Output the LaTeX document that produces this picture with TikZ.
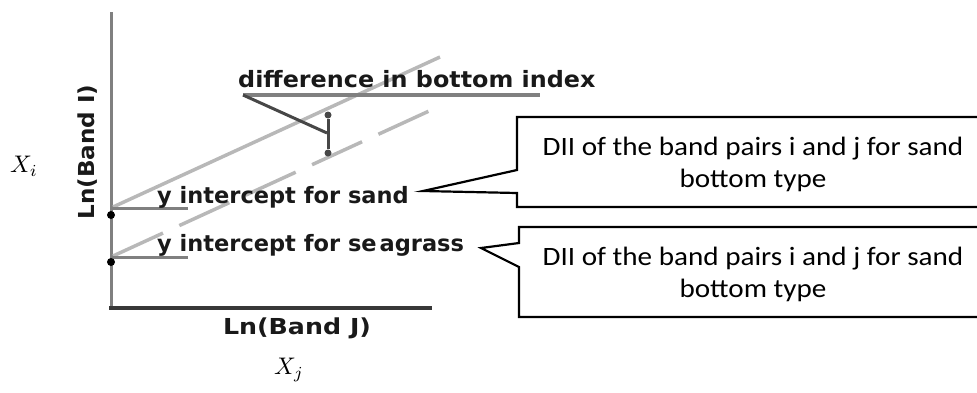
\documentclass[tikz,border=0pt]{standalone}
\usepackage{fontspec}
\usepackage{graphicx}
\newfontfamily\labfont{DejaVu Sans}
\newfontfamily\boxfont{Carlito}
\definecolor{labcol}{gray}{0.1}
\definecolor{axisgray}{gray}{0.5}
\definecolor{axisdark}{gray}{0.22}
\definecolor{linegray}{gray}{0.72}
\definecolor{leadgray}{gray}{0.28}
\begin{document}
\begin{tikzpicture}[x=1pt,y=-1pt,
  lab/.style={font=\labfont\bfseries\fontsize{22.5}{26}\selectfont, text=labcol, inner sep=0pt, anchor=base west},
  axlab/.style={font=\labfont\bfseries\fontsize{22}{26}\selectfont, text=labcol, inner sep=0pt},
  mathlab/.style={inner sep=0pt},
  boxtext/.style={font=\boxfont\fontsize{26.5}{32}\selectfont, inner sep=0pt, anchor=base},
  callout/.style={draw=black, line width=2.2pt, line join=miter},
  axisline/.style={draw=axisgray, line width=3pt},
  fitline/.style={draw=linegray, line width=3.5pt},
  dot/.style={circle, fill=black, inner sep=0pt, minimum size=8pt}
]
\useasboundingbox (0,0) rectangle (977,392);
\clip (0,0) rectangle (977,392);

% axes
\coordinate (ytop) at (111,12);
\coordinate (origin) at (111,308);
\coordinate (xend) at (432,308);
\draw[axisline] (ytop) -- (origin);
\draw[draw=axisdark, line width=4pt] ([xshift=-2pt]origin) -- (xend);

% fitted lines
\coordinate (sandstart) at (113,207);
\coordinate (sandend) at (440,57);
\coordinate (sgstart) at (113,256);
\coordinate (sgend) at (440,106);
\draw[fitline] (sandstart) -- (sandend);
\draw[fitline, dash pattern=on 55pt off 18pt] (sgstart) -- (sgend);

% intercept ticks and dots
\coordinate (sandtick) at (188,208);
\coordinate (sgtick) at (188,257);
\draw[axisline] (111,208) -- (sandtick);
\draw[axisline] (111,257) -- (sgtick);
\node[dot] (sanddot) at (111,215) {};
\node[dot] (sgdot) at (111,262) {};

% difference in bottom index
\node[lab] (diff) at (238,87) {\scalebox{1.06}[1]{difference in bottom index}};
\coordinate (ulstart) at (243,95);
\coordinate (ulend) at (540,95);
\draw[draw=axisgray, line width=4pt] (ulstart) -- (ulend);
\node[dot, minimum size=7pt, fill=leadgray] (dtop) at (328,115) {};
\node[dot, minimum size=7pt, fill=leadgray] (dbot) at (328,153) {};
\coordinate (dmid) at (327,133);
\draw[draw=leadgray, line width=3pt] (dtop) -- (dbot);
\draw[draw=leadgray, line width=3pt] (ulstart) -- (dmid);

% intercept labels
\node[lab] (sand) at (157,203) {y intercept for sand};
\node[lab] (seagrass) at (157,251) {y intercept for se\kern3pt agrass};

% axis labels
\node[axlab] (xlab) at (297,328) {\scalebox{1.15}[1]{Ln(Band J)}};
\node[axlab, rotate=90] (ylab) at (88,152) {\scalebox{1.05}[1]{Ln(Band I)}};
\node[mathlab] (xi) at (24,166) {\scalebox{2.4}{$X_i$}};
\node[mathlab] (xj) at (289,370) {\scalebox{2.4}{$X_j$}};

% callout boxes
\coordinate (tipsand) at (423,191);
\coordinate (tipsg) at (481,248);
\draw[callout] (995,117) -- (517,117) -- (517,170) -- (tipsand) -- (517,193) -- (517,207) -- (995,207);
\draw[callout] (995,227) -- (519,227) -- (519,243) -- (tipsg) -- (519,267) -- (519,317) -- (995,317);
\node[boxtext] (b1a) at (753,155) {\scalebox{1.1}[1]{DII of the band pairs i and j for sand}};
\node[boxtext] (b1b) at (753,187) {\scalebox{1.1}[1]{bottom type}};
\node[boxtext] (b2a) at (753,265) {\scalebox{1.1}[1]{DII of the band pairs i and j for sand}};
\node[boxtext] (b2b) at (753,297) {\scalebox{1.1}[1]{bottom type}};
\end{tikzpicture}
\end{document}
